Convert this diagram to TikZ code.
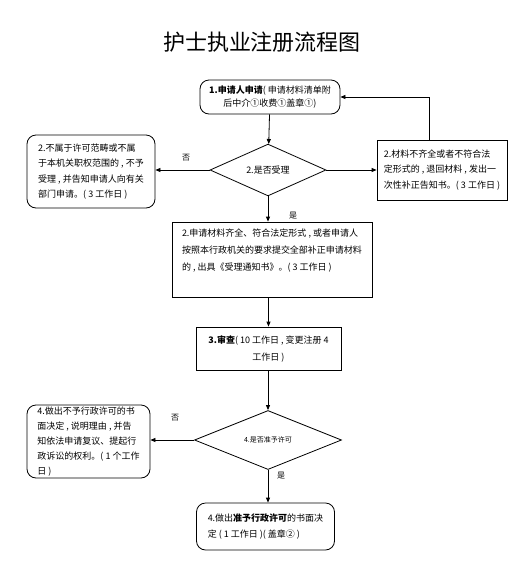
\documentclass[tikz,border=0pt]{standalone}
\usepackage{fontspec}
\setmainfont{Noto Sans CJK SC}
\usetikzlibrary{arrows.meta, shapes.geometric}

\begin{document}
\begin{tikzpicture}[x=1pt, y=1pt, >={Triangle[length=5pt,width=4pt]},
  every node/.style={font=\fontsize{9}{15.5}\selectfont},
  box/.style={draw, line width=0.8pt, inner sep=0pt, align=left},
  rbox/.style={box, rounded corners=9pt},
  decision/.style={draw, diamond, line width=0.8pt, inner sep=0pt},
  arrowlabel/.style={draw=none, fill=none, font=\fontsize{8}{10}\selectfont}]

  \path[use as bounding box] (0,0) rectangle (524,-574);

  % Title
  \node[font=\fontsize{22}{24}\selectfont] (title) at (262,-42) {护士执业注册流程图};

  % Application
  \node[rbox, align=center, minimum width=140, minimum height=34,
        font=\fontsize{9}{13}\selectfont] (app) at (270,-97)
    {\textbf{1.申请人申请}( 申请材料清单附\\后中介①收费①盖章①)};

  % Accept or not
  \node[decision, minimum width=116, minimum height=48, font=\fontsize{9}{11}\selectfont] (acc) at (268,-170) {2.是否受理};

  % Not in scope
  \node[rbox, minimum width=128, minimum height=73] (out) at (91,-171.5)
    {2.不属于许可范畴或不属\\于本机关职权范围的 , 不予\\受理 , 并告知申请人向有关\\部门申请。( 3 工作日 )};

  % Incomplete material
  \node[box, minimum width=130, minimum height=60] (fix) at (442,-170)
    {2.材料不齐全或者不符合法\\定形式的 , 退回材料 , 发出一\\次性补正告知书。( 3 工作日 )};

  % Accepted
  \node[box, minimum width=200, minimum height=75,
        font=\fontsize{9}{17}\selectfont] (ok) at (272,-259.5)
    {2.申请材料齐全、符合法定形式 , 或者申请人\\按照本行政机关的要求提交全部补正申请材料\\的 , 出具《受理通知书》。( 3 工作日 )\\[2pt]};

  % Review
  \node[box, align=center, minimum width=145, minimum height=43,
        font=\fontsize{9}{17}\selectfont] (rev) at (268.5,-348.5)
    {\textbf{3.审查}( 10 工作日 , 变更注册 4\\工作日 )};

  % Permit or not
  \node[decision, minimum width=147, minimum height=59, font=\fontsize{7}{9}\selectfont] (perm) at (268,-440) {4.是否准予许可};

  % Refused
  \node[rbox, minimum width=123, minimum height=73,
        font=\fontsize{9}{14.8}\selectfont] (no) at (88.5,-441.5)
    {4.做出不予行政许可的书\\面决定 , 说明理由 , 并告\\知依法申请复议、提起行\\政诉讼的权利。( 1 个工作\\日 )};

  % Granted
  \node[rbox, minimum width=138, minimum height=47] (yes) at (265.5,-526.5)
    {4.做出\textbf{准予行政许可}的书面决\\定 ( 1 工作日 )( 盖章② )};

  % Connections
  \draw[->, line width=0.8pt] (app) -- (acc);
  \draw[->, line width=0.8pt] (acc.west) -- (acc.west -| out.east);
  \draw[->, line width=0.8pt] (acc.east) -- (acc.east -| fix.west);
  \draw[->, line width=0.8pt] ([xshift=-13pt]fix.north) |- (app.east);
  \draw[->, line width=0.8pt] (acc.south) -- (acc.south |- ok.north);
  \draw[->, line width=0.8pt] (ok.south -| rev.north) -- (rev.north);
  \draw[->, line width=0.8pt] (rev.south -| perm.north) -- (perm.north);
  \draw[->, line width=0.8pt] (perm.west) -- (perm.west -| no.east);
  \draw[->, line width=0.8pt] (perm.south) -- (perm.south |- yes.north);

  % Labels
  \node[arrowlabel] (n1) at (186,-158) {否};
  \node[arrowlabel] (y1) at (293,-216) {是};
  \node[arrowlabel] (n2) at (175,-418) {否};
  \node[arrowlabel] (y2) at (281,-476) {是};

\end{tikzpicture}
\end{document}
